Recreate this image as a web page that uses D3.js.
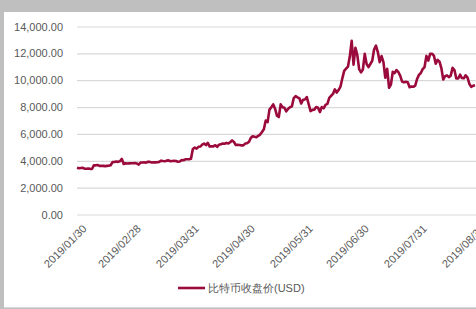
<!DOCTYPE html>
<html>
<head>
<meta charset="utf-8">
<script src="https://cdn.jsdelivr.net/npm/d3@7"></script>
<style>
  body { margin: 0; background: #fff; }
  svg { display: block; }
</style>
</head>
<body>
<script>
const WIDTH = 476;
const HEIGHT = 309;
const MARGIN = { left: 77, right: 1, top: 26.5, bottom: 94.5 };

const START_DATE = "2019-01-30";
const SERIES_NAME = "比特币收盘价(USD)";
const Y_TICKS = [0, 2000, 4000, 6000, 8000, 10000, 12000, 14000];
const X_TICKS = ["2019-01-30", "2019-02-28", "2019-03-31", "2019-04-30", "2019-05-31", "2019-06-30", "2019-07-31", "2019-08-31"];

// daily close, one per day from 2019/01/30
const closeJan = [3480, 3440];
const closeFeb = [3460, 3480, 3410, 3410, 3430, 3400, 3390, 3660, 3660, 3690,
  3620, 3630, 3620, 3600, 3620, 3640, 3670, 3900, 3910, 3950,
  3920, 3960, 4140, 3760, 3820, 3800, 3810, 3820];
const closeMar = [3820, 3830, 3800, 3720, 3860, 3870, 3880, 3860, 3930, 3920,
  3870, 3890, 3880, 3890, 3920, 4010, 3980, 3970, 4010, 4030,
  3970, 3980, 3990, 3980, 3930, 3950, 4050, 4040, 4110, 4120, 4110];
const closeApr = [4150, 4880, 4980, 4900, 5040, 5060, 5200, 5280, 5170, 5330,
  5060, 5070, 5070, 5160, 5040, 5200, 5240, 5280, 5270, 5330,
  5290, 5380, 5520, 5400, 5180, 5190, 5170, 5150, 5150, 5280];
const closeMay = [5310, 5400, 5700, 5830, 5790, 5750, 5860, 5950, 6140, 6350,
  7000, 6880, 7810, 7990, 8200, 7880, 7360, 7260, 8200, 7990,
  7950, 7680, 7880, 7990, 8050, 8670, 8810, 8720, 8660, 8270, 8550];
const closeJun = [8560, 8740, 8210, 7700, 7790, 7810, 8000, 7950, 7630, 8000,
  7910, 8170, 8240, 8690, 8840, 8980, 9320, 9080, 9270, 9520,
  10140, 10700, 10860, 11010, 11760, 12930, 11160, 12410, 11890, 10820];
const closeJul = [10580, 10800, 11960, 11210, 10980, 11210, 11450, 12290, 12570, 12100,
  11340, 11800, 11350, 10180, 10850, 9440, 9670, 10630, 10530, 10760,
  10600, 10320, 9900, 9840, 9880, 9850, 9480, 9530, 9510, 9600, 10090];
const closeAug = [10400, 10540, 10820, 10980, 11810, 11460, 11960, 11970, 11830, 11230,
  11510, 11380, 10900, 10050, 10300, 10360, 10230, 10340, 10920, 10760,
  10130, 10130, 10410, 10160, 10140, 10370, 10190, 9720, 9500, 9590, 9630];

const closes = [].concat(closeJan, closeFeb, closeMar, closeApr, closeMay, closeJun, closeJul, closeAug);
const parse = d3.utcParse("%Y-%m-%d");
const start = parse(START_DATE);
const data = closes.map((v, i) => ({ date: d3.utcDay.offset(start, i), value: v }));

const x = d3.scaleUtc()
  .domain([start, parse("2019-08-31")])
  .range([MARGIN.left, WIDTH - MARGIN.right]);
const y = d3.scaleLinear()
  .domain([0, 14000])
  .range([HEIGHT - MARGIN.bottom, MARGIN.top]);

const svg = d3.select("body").append("svg")
  .attr("width", WIDTH)
  .attr("height", HEIGHT)
  .style("font-family", "'Liberation Sans', Arial, sans-serif");

// frame
svg.append("rect").attr("width", WIDTH).attr("height", HEIGHT).attr("fill", "#bfbfbf");
svg.append("rect").attr("x", 4).attr("y", 12).attr("width", WIDTH - 4).attr("height", 295)
  .attr("fill", "#fff");
svg.append("line").attr("x1", 4).attr("x2", WIDTH).attr("y1", 307.5).attr("y2", 307.5)
  .attr("stroke", "#d9d9d9");

// y axis with grid
const yAxis = d3.axisLeft(y)
  .tickValues(Y_TICKS)
  .tickFormat(d3.format(",.2f"))
  .tickSize(-(WIDTH - MARGIN.left))
  .tickPadding(14);

svg.append("g")
  .attr("transform", `translate(${MARGIN.left},0)`)
  .call(yAxis)
  .call(g => g.select(".domain").remove())
  .call(g => g.selectAll(".tick line").attr("stroke", "#d9d9d9").attr("stroke-width", 1.2))
  .call(g => g.selectAll(".tick text")
    .attr("fill", "#595959")
    .style("font-size", "11px"));

// x labels
const fmt = d3.utcFormat("%Y/%m/%d");
svg.append("g")
  .selectAll("text")
  .data(X_TICKS.map(parse))
  .join("text")
  .attr("transform", d => `translate(${x(d) + 5},${224}) rotate(-45)`)
  .attr("text-anchor", "end")
  .attr("dy", "0.7em")
  .attr("fill", "#595959")
  .style("font-size", "11px")
  .text(d => fmt(d));

// price line
const line = d3.line()
  .x(d => x(d.date))
  .y(d => y(d.value));

svg.append("path")
  .datum(data)
  .attr("fill", "none")
  .attr("stroke", "#9b0a3c")
  .attr("stroke-width", 2.6)
  .attr("stroke-linejoin", "round")
  .attr("d", line);

// legend
const legend = svg.append("g").attr("transform", "translate(178,288)");
legend.append("line")
  .attr("x1", 0).attr("x2", 27)
  .attr("stroke", "#9b0a3c").attr("stroke-width", 2.6);
legend.append("text")
  .attr("x", 30).attr("dy", "0.35em")
  .attr("fill", "#595959")
  .style("font-size", "11px")
  .text(SERIES_NAME);
</script>
</body>
</html>
